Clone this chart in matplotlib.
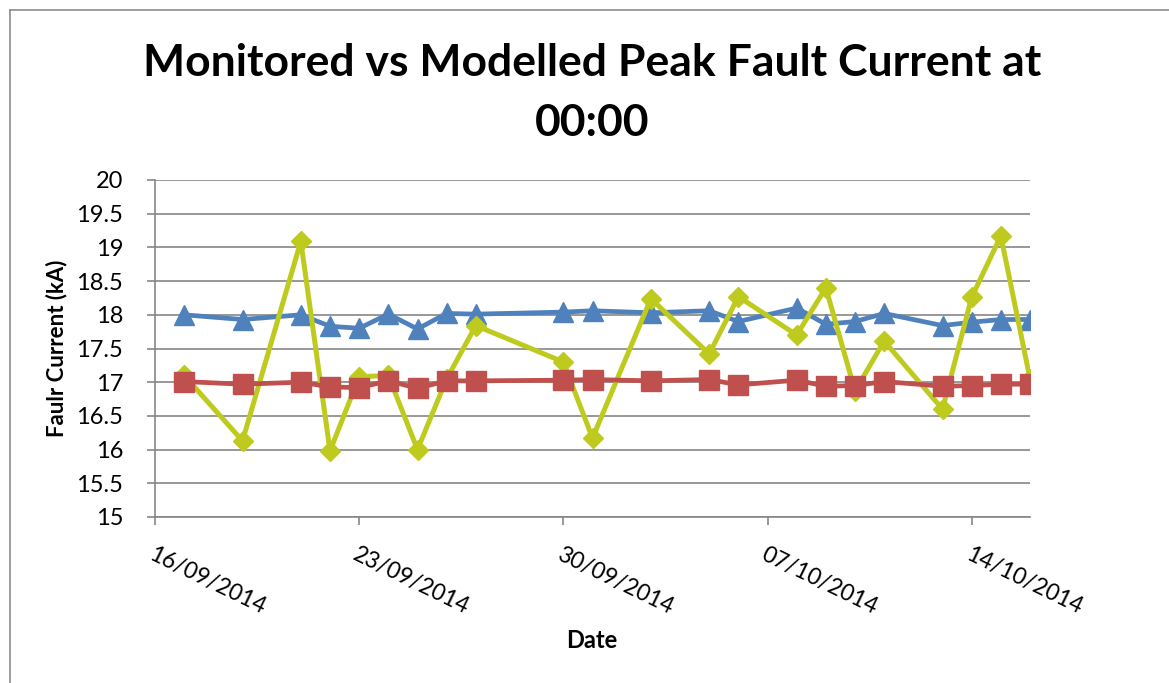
import numpy as np
import matplotlib
matplotlib.use("Agg")
import matplotlib.pyplot as plt
import matplotlib.dates as mdates
from matplotlib.lines import Line2D
from datetime import datetime, timedelta

# data
dates = ["2014-09-17", "2014-09-19", "2014-09-21", "2014-09-22", "2014-09-23",
         "2014-09-24", "2014-09-25", "2014-09-26", "2014-09-27", "2014-09-30",
         "2014-10-01", "2014-10-03", "2014-10-05", "2014-10-06", "2014-10-08",
         "2014-10-09", "2014-10-10", "2014-10-11", "2014-10-13", "2014-10-14",
         "2014-10-15", "2014-10-16"]
modelled_max = [18.00, 17.93, 18.00, 17.83, 17.80, 18.01, 17.79, 18.02, 18.01, 18.04,
                18.06, 18.03, 18.06, 17.90, 18.10, 17.86, 17.90, 18.02, 17.84, 17.89,
                17.93, 17.93]
modelled_min = [17.01, 16.97, 17.00, 16.93, 16.92, 17.02, 16.91, 17.02, 17.02, 17.03,
                17.04, 17.02, 17.04, 16.96, 17.03, 16.94, 16.95, 17.01, 16.94, 16.95,
                16.97, 16.97]
monitored = [17.10, 16.13, 19.09, 15.98, 17.08, 17.10, 16.00, 17.05, 17.84, 17.30,
             16.17, 18.24, 17.42, 18.27, 17.70, 18.40, 16.87, 17.61, 16.60, 18.26,
             19.17, 17.05]
y_ticks = ['15', '15.5', '16', '16.5', '17', '17.5', '18', '18.5', '19', '19.5', '20']

x = [datetime.strptime(d, "%Y-%m-%d") for d in dates]

plt.rcParams['font.family'] = ['Lato', 'DejaVu Sans']

W, H = 1169, 683
fig = plt.figure(figsize=(W / 100, H / 100), dpi=100)
ax = fig.add_axes([155 / W, 1 - 517 / H, (1030 - 155) / W, (517 - 180) / H])

grey = '#868686'
ax.plot(x, modelled_max, color='#4F81BD', lw=3.4, marker='^', ms=14.5, zorder=3)
ax.plot(x, monitored, color='#BECB1E', lw=3.6, marker='D', ms=10.5, zorder=4)
ax.plot(x, modelled_min, color='#C0504D', lw=3.4, marker='s', ms=14.5, zorder=5)

start = datetime(2014, 9, 16)
ax.set_xlim(start, start + timedelta(days=30))
ax.set_ylim(15, 20)
ax.set_yticks(np.arange(15, 20.01, 0.5))
ax.set_yticklabels(y_ticks)
ax.set_xticks([start + timedelta(days=7 * i) for i in range(5)])
ax.xaxis.set_major_formatter(mdates.DateFormatter('%d/%m/%Y'))

ax.grid(axis='y', color=grey, lw=1.2)
ax.set_axisbelow(True)
for s in ['top', 'right']:
    ax.spines[s].set_visible(False)
for s in ['left', 'bottom']:
    ax.spines[s].set_color(grey)
    ax.spines[s].set_linewidth(1.2)
ax.tick_params(axis='both', colors=grey, length=6, width=1.2, labelcolor='black')
ax.tick_params(axis='y', pad=17, labelsize=17)
ax.tick_params(axis='x', pad=13, labelsize=16.5)
plt.setp(ax.get_xticklabels(), rotation=-26, ha='left', va='top', rotation_mode='anchor')

ax.set_ylabel('Faulr Current (kA)', fontsize=16, fontweight='bold')
ax.yaxis.set_label_coords(-0.1, 0.5)
fig.text(592 / W, 1 - 641 / H, 'Date', fontsize=17, fontweight='bold', ha='center', va='center')
fig.text(592 / W, 1 - 93 / H, 'Monitored vs Modelled Peak Fault Current at\n00:00',
         fontsize=32, fontweight='bold', ha='center', va='center', linespacing=1.63)

# chart area border (left and top edges visible)
fig.add_artist(Line2D([10 / W, 10 / W], [0, 1 - 10 / H], color='#8c8c8c', lw=1.2))
fig.add_artist(Line2D([10 / W, 1], [1 - 10 / H, 1 - 10 / H], color='#8c8c8c', lw=1.2))

fig.savefig('out.png', dpi=100)
